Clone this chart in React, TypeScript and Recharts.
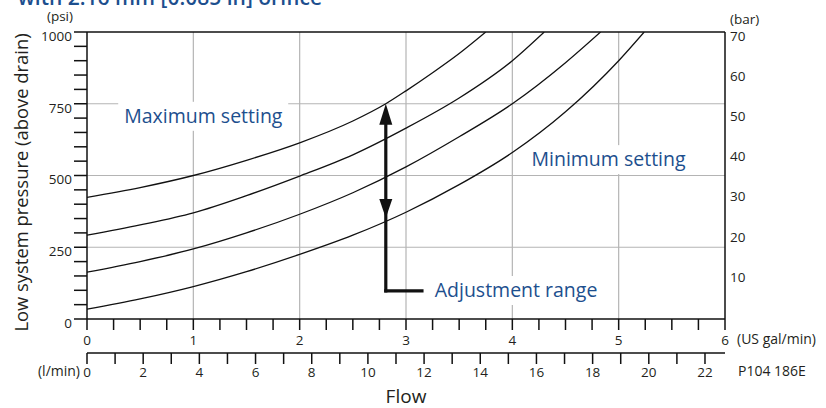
import React from 'react';
import {
  ComposedChart,
  Line,
  XAxis,
  YAxis,
  ReferenceLine,
  ReferenceDot,
  Customized,
} from 'recharts';

// ---- data ----
const FLOW_MAX = [0, 0.5, 1, 1.5, 2, 2.5, 2.81, 3, 3.25, 3.5, 3.75];
const PSI_MAX = [424, 458, 500, 553, 614, 690, 750, 795, 858, 925, 1000];

const FLOW_C2 = [0, 0.5, 1, 1.5, 2, 2.5, 3, 3.5, 4, 4.3];
const PSI_C2 = [292, 328, 370, 430, 498, 572, 665, 770, 900, 1000];

const FLOW_C3 = [0, 0.5, 1, 1.5, 2, 2.5, 3, 3.5, 4, 4.5, 4.83];
const PSI_C3 = [163, 200, 244, 300, 365, 440, 530, 635, 750, 893, 1000];

const FLOW_MIN = [0, 0.5, 1, 1.5, 2, 2.5, 3, 3.5, 4, 4.5, 5, 5.24];
const PSI_MIN = [34, 70, 113, 165, 225, 292, 372, 468, 580, 722, 900, 1000];

const PSI_TICKS = [0, 50, 100, 150, 200, 250, 300, 350, 400, 450, 500, 550, 600, 650, 700, 750, 800, 850, 900, 950, 1000];
const PSI_LABELS = [0, 250, 500, 750, 1000];
const BAR_TICKS = [10, 20, 30, 40, 50, 60, 70];
const GAL_TICKS = [0, 0.25, 0.5, 0.75, 1, 1.25, 1.5, 1.75, 2, 2.25, 2.5, 2.75, 3, 3.25, 3.5, 3.75, 4, 4.25, 4.5, 4.75, 5, 5.25, 5.5, 5.75, 6];
const GAL_LABELS = [0, 1, 2, 3, 4, 5, 6];
const LMIN_TICKS = [0, 1, 2, 3, 4, 5, 6, 7, 8, 9, 10, 11, 12, 13, 14, 15, 16, 17, 18, 19, 20, 21, 22];
const LMIN_LABELS = [0, 2, 4, 6, 8, 10, 12, 14, 16, 18, 20, 22];
const GAL_GRID = [1, 2, 3, 4, 5];
const PSI_GRID = [250, 500, 750];
const LMIN_MAX = 6 * 3.785411784;

// annotation anchors (data units)
const ARROW_FLOW = 2.81;
const ARROW_TOP_PSI = 750;
const ARROW_LOW_PSI = 352;
const ELBOW_PSI = 98;
const ELBOW_END_FLOW = 3.15;
const MAX_LABEL = { flow: 0.35, psi: 708, text: 'Maximum setting' };
const MIN_LABEL = { flow: 4.18, psi: 557, text: 'Minimum setting' };
const ADJ_LABEL = { flow: 3.27, psi: 101, text: 'Adjustment range' };

const build = (f: number[], p: number[]) => f.map((x, i) => ({ flow: x, psi: p[i] }));
const curveMax = build(FLOW_MAX, PSI_MAX);
const curve2 = build(FLOW_C2, PSI_C2);
const curve3 = build(FLOW_C3, PSI_C3);
const curveMin = build(FLOW_MIN, PSI_MIN);

const FONT = '"Open Sans", sans-serif';
const TXT = '#231f20';
const BLUE = '#1d4f8e';
const GRID = '#b4b4b4';
const TICK_FS = 13.5;

const LeftTick = (props: any) => {
  const { x, y, payload } = props;
  if (!PSI_LABELS.includes(payload.value)) return <g />;
  return (
    <text x={x} y={y + 4} dy="0.355em" textAnchor="end" fontSize={TICK_FS} fontFamily={FONT} fill={TXT}>
      {payload.value}
    </text>
  );
};

const RightTick = (props: any) => {
  const { x, y, payload } = props;
  return (
    <text x={x} y={y} dy="0.355em" textAnchor="start" fontSize={TICK_FS} fontFamily={FONT} fill={TXT}>
      {payload.value}
    </text>
  );
};

const GalTick = (props: any) => {
  const { x, y, payload } = props;
  if (!GAL_LABELS.includes(payload.value)) return <g />;
  return (
    <text x={x} y={y} dy="0.71em" textAnchor="middle" fontSize={TICK_FS} fontFamily={FONT} fill={TXT}>
      {payload.value}
    </text>
  );
};

const LminTick = (props: any) => {
  const { x, y, payload } = props;
  if (!LMIN_LABELS.includes(payload.value)) return <g />;
  return (
    <text x={x} y={y} dy="0.71em" textAnchor="middle" fontSize={TICK_FS} fontFamily={FONT} fill={TXT}>
      {payload.value}
    </text>
  );
};

const makeLabel = (text: string, w: number) => (props: any) => {
  const { cx, cy } = props;
  return (
    <g>
      <rect x={cx - 6} y={cy - 14} width={w} height={29} fill="#fff" />
      <text x={cx} y={cy} dy="0.35em" fontSize={19.5} fontFamily={FONT} fill={BLUE}>
        {text}
      </text>
    </g>
  );
};

const UpHead = (props: any) => {
  const { cx, cy } = props;
  return <path d={`M${cx},${cy} L${cx - 6.5},${cy + 21} L${cx + 6.5},${cy + 21} Z`} fill="#111" />;
};
const DownHead = (props: any) => {
  const { cx, cy } = props;
  return <path d={`M${cx},${cy} L${cx - 6.5},${cy - 19} L${cx + 6.5},${cy - 19} Z`} fill="#111" />;
};

const StaticTexts = () => (
  <g fontFamily={FONT}>
    <text x={322} y={5} textAnchor="end" fontSize={21} fontWeight={600} fill={BLUE}>
      with 2.16 mm [0.085 in] orifice
    </text>
    <text x={73} y={21} textAnchor="end" fontSize={13.5} fill={TXT}>(psi)</text>
    <text x={730} y={24} textAnchor="start" fontSize={13.5} fill={TXT}>(bar)</text>
    <text transform="translate(28,182.5) rotate(-90)" textAnchor="middle" fontSize={18.4} fill={TXT}>
      Low system pressure (above drain)
    </text>
    <text x={737} y={344} textAnchor="start" fontSize={14} fill={TXT}>(US gal/min)</text>
    <text x={80} y={376} textAnchor="end" fontSize={14} fill={TXT}>(l/min)</text>
    <text x={738} y={376} textAnchor="start" fontSize={14} fill={TXT}>P104 186E</text>
    <text x={406} y={403} textAnchor="middle" fontSize={19} fill={TXT}>Flow</text>
  </g>
);

export default function App() {
  return (
    <div style={{ position: 'absolute', left: 0, top: 0, width: 826, height: 408, background: '#fff' }}>
      <ComposedChart width={826} height={408} margin={{ top: 32, right: 0, bottom: 0, left: 0 }}>
        <XAxis
          xAxisId="gal"
          dataKey="flow"
          type="number"
          domain={[0, 6]}
          ticks={GAL_TICKS}
          interval={0}
          allowDataOverflow
          height={34}
          tickSize={11}
          tickMargin={5}
          stroke="#111"
          strokeWidth={1.5}
          tick={GalTick}
        />
        <XAxis
          xAxisId="lmin"
          dataKey="lmin"
          type="number"
          domain={[0, LMIN_MAX]}
          ticks={LMIN_TICKS}
          interval={0}
          allowDataOverflow
          height={55}
          tickSize={11}
          tickMargin={3}
          stroke="#111"
          strokeWidth={1.5}
          tick={LminTick}
        />
        <YAxis
          yAxisId="psi"
          dataKey="psi"
          type="number"
          domain={[0, 1000]}
          ticks={PSI_TICKS}
          interval={0}
          allowDataOverflow
          width={87}
          tickSize={13}
          tickMargin={2}
          stroke="#111"
          strokeWidth={1.5}
          tick={LeftTick}
        />
        <YAxis
          yAxisId="bar"
          orientation="right"
          type="number"
          domain={[-0.5, 71]}
          ticks={BAR_TICKS}
          interval={0}
          allowDataOverflow
          width={101}
          tickLine={false}
          tickSize={0}
          tickMargin={5}
          stroke="#111"
          strokeWidth={1.5}
          tick={RightTick}
        />

        {PSI_GRID.map((v) => (
          <ReferenceLine key={'h' + v} xAxisId="gal" yAxisId="psi" y={v} stroke={GRID} strokeWidth={1.2} />
        ))}
        {GAL_GRID.map((v) => (
          <ReferenceLine key={'v' + v} xAxisId="gal" yAxisId="psi" x={v} stroke={GRID} strokeWidth={1.2} />
        ))}
        <ReferenceLine xAxisId="gal" yAxisId="psi" y={1000} stroke="#111" strokeWidth={1.5} />

        <ReferenceDot xAxisId="gal" yAxisId="psi" x={MAX_LABEL.flow} y={MAX_LABEL.psi} shape={makeLabel(MAX_LABEL.text, 170)} />
        <ReferenceDot xAxisId="gal" yAxisId="psi" x={MIN_LABEL.flow} y={MIN_LABEL.psi} shape={makeLabel(MIN_LABEL.text, 165)} />
        <ReferenceDot xAxisId="gal" yAxisId="psi" x={ADJ_LABEL.flow} y={ADJ_LABEL.psi} shape={makeLabel(ADJ_LABEL.text, 172)} />

        <Line xAxisId="gal" yAxisId="psi" data={curveMax} dataKey="psi" type="monotone" stroke="#111" strokeWidth={1.3} dot={false} isAnimationActive={false} />
        <Line xAxisId="gal" yAxisId="psi" data={curve2} dataKey="psi" type="monotone" stroke="#111" strokeWidth={1.3} dot={false} isAnimationActive={false} />
        <Line xAxisId="gal" yAxisId="psi" data={curve3} dataKey="psi" type="monotone" stroke="#111" strokeWidth={1.3} dot={false} isAnimationActive={false} />
        <Line xAxisId="gal" yAxisId="psi" data={curveMin} dataKey="psi" type="monotone" stroke="#111" strokeWidth={1.3} dot={false} isAnimationActive={false} />

        <ReferenceLine
          xAxisId="gal"
          yAxisId="psi"
          segment={[{ x: ARROW_FLOW, y: ARROW_TOP_PSI - 40 }, { x: ARROW_FLOW, y: ELBOW_PSI }]}
          stroke="#111"
          strokeWidth={3.2}
          strokeLinecap="square"
        />
        <ReferenceLine
          xAxisId="gal"
          yAxisId="psi"
          segment={[{ x: ARROW_FLOW, y: ELBOW_PSI }, { x: ELBOW_END_FLOW, y: ELBOW_PSI }]}
          stroke="#111"
          strokeWidth={3.2}
          strokeLinecap="square"
        />
        <ReferenceDot xAxisId="gal" yAxisId="psi" x={ARROW_FLOW} y={ARROW_TOP_PSI} shape={UpHead} />
        <ReferenceDot xAxisId="gal" yAxisId="psi" x={ARROW_FLOW} y={ARROW_LOW_PSI} shape={DownHead} />

        <Customized component={StaticTexts} />
      </ComposedChart>
    </div>
  );
}
